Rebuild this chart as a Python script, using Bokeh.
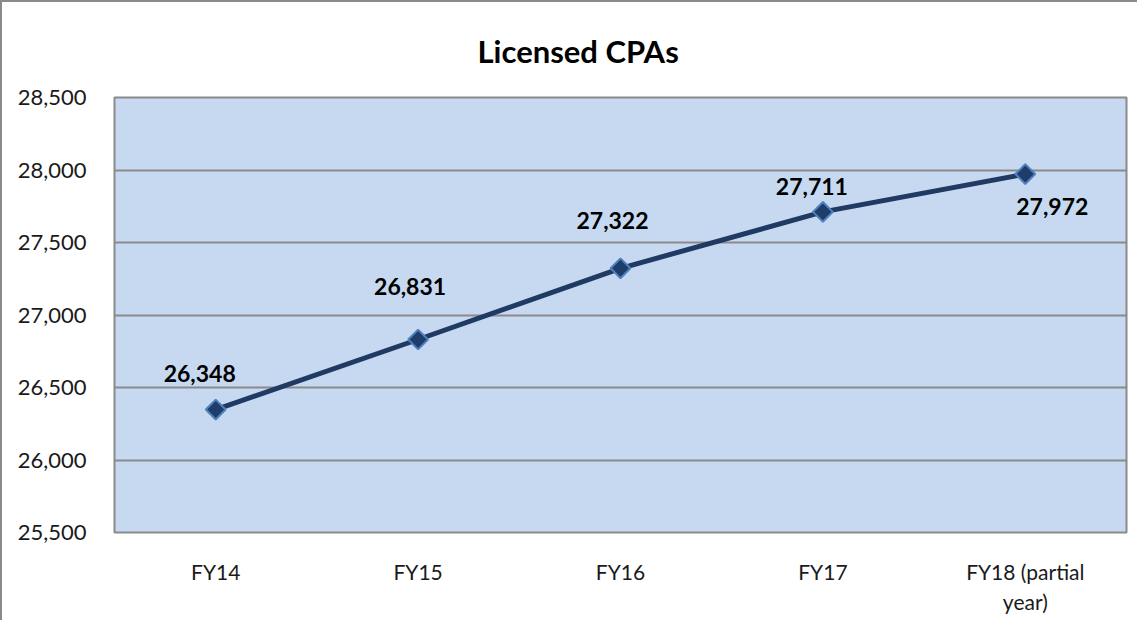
import math
from bokeh.plotting import figure
from bokeh.models import ColumnDataSource, FixedTicker, NumeralTickFormatter, Title, FactorRange
from bokeh.core.properties import value
from bokeh.embed import file_html
from bokeh.resources import INLINE

# ---- data ----
categories = ["FY14", "FY15", "FY16", "FY17", "FY18 (partial\nyear)"]
licensed_cpas = [26348, 26831, 27322, 27711, 27972]
value_labels = ["26,348", "26,831", "27,322", "27,711", "27,972"]
y_ticks = [25500, 26000, 26500, 27000, 27500, 28000, 28500]

# label placement (style, screen px)
lbl_dx = [-16, -8, -8, -11, 27]
lbl_dy = [-36, -53, -48, -25, 32]

FONT = "Lato"

src = ColumnDataSource(dict(x=categories, y=licensed_cpas, lab=value_labels,
                            dx=lbl_dx, dy=lbl_dy))

p = figure(x_range=FactorRange(*categories, range_padding=0), y_range=(25500, 28500),
           width=1137, height=620, output_backend="svg", toolbar_location=None,
           min_border_left=112, min_border_right=13, min_border_top=92, min_border_bottom=90,
           styles={"border-left": "2px solid #8a8a8a", "border-top": "2px solid #8a8a8a"})

p.background_fill_color = "#C6D9F0"
p.border_fill_color = "white"
p.outline_line_color = "#8a8a8a"
p.outline_line_width = 2

t = Title(text="Licensed CPAs", align="left", offset=363, text_font=FONT,
          text_font_size="31px", text_font_style="bold", text_color="black",
          standoff=55)
p.add_layout(t, "above")

p.xgrid.grid_line_color = None
p.ygrid.grid_line_color = "#8a8a8a"
p.ygrid.grid_line_width = 2
p.yaxis.ticker = FixedTicker(ticks=y_ticks)
p.yaxis.formatter = NumeralTickFormatter(format="0,0")

for ax in (p.xaxis, p.yaxis):
    ax.axis_line_color = None
    ax.major_tick_line_color = None
    ax.minor_tick_line_color = None
    ax.major_label_text_font = FONT
    ax.major_label_text_font_size = "22px"
    ax.major_label_text_color = "#1a1a1a"
p.xaxis.major_label_text_font_size = "21px"
p.yaxis.major_label_standoff = 22
p.xaxis.major_label_standoff = 20

p.line("x", "y", source=src, line_color="#1F3A63", line_width=5)
p.scatter("x", "y", source=src, marker="square", angle=math.pi / 4, size=14,
          fill_color="#1F3D6B", line_color="#4F81BD", line_width=2)

p.text("x", "y", text="lab", source=src, x_offset="dx", y_offset="dy",
       text_font=value(FONT), text_font_size="23px", text_font_style="bold",
       text_color="black", text_align="center", text_baseline="middle")

open("out.html", "w").write(file_html(p, INLINE))
